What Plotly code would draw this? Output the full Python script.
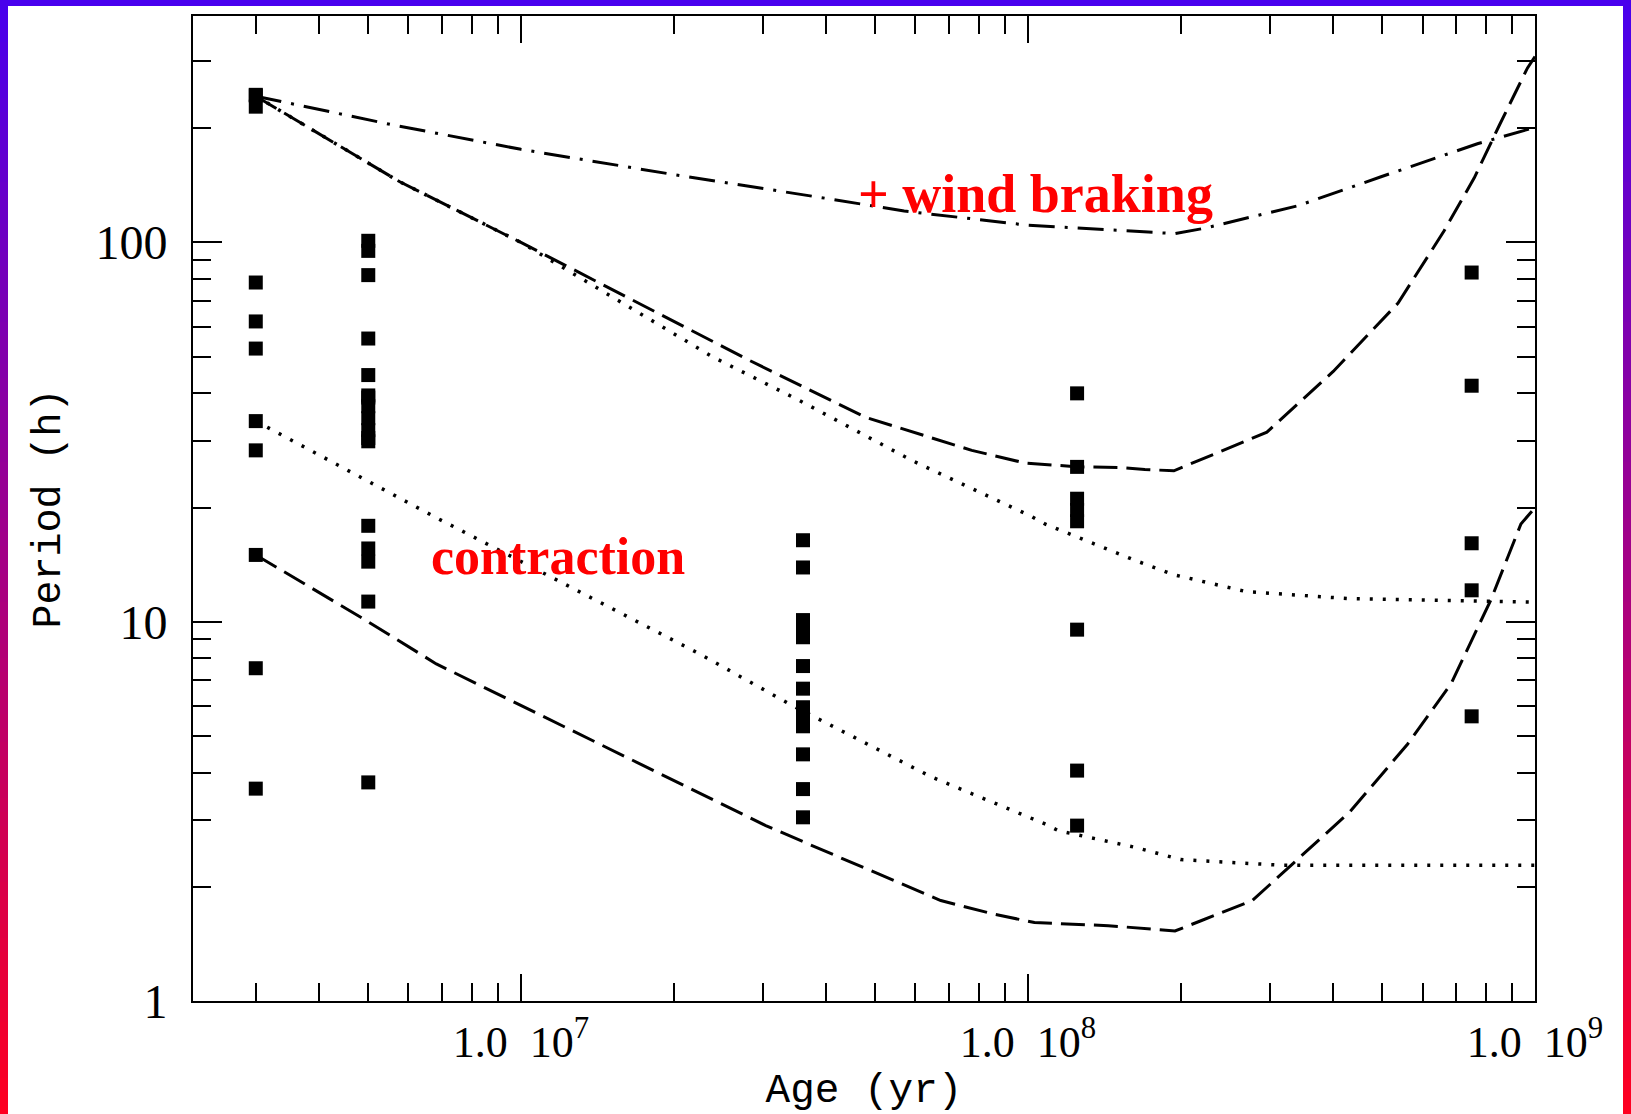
import plotly.graph_objects as go

# ---------------- data ----------------
# observed rotation periods (age in yr, period in h)
age_3myr = [3.0e6] * 11
per_3myr = [244, 228, 78.4, 61.9, 52.5, 33.8, 28.3, 15.0, 7.54, 3.63, 245]
age_5myr = [5.0e6] * 17
per_5myr = [101, 95, 82.0, 55.8, 44.7, 39.5, 37.0, 34.4, 32.0, 29.9,
            17.9, 15.6, 14.4, 11.3, 3.77, 39.0, 30.5]
age_36myr = [3.6e7] * 13
per_36myr = [16.4, 13.9, 10.1, 9.6, 9.1, 7.64, 6.66, 5.95, 5.6, 5.3, 4.47, 3.62, 3.05]
age_125myr = [1.25e8] * 8
per_125myr = [40.0, 25.6, 21.1, 19.7, 18.4, 9.53, 4.05, 2.90]
age_750myr = [7.5e8] * 5
per_750myr = [83.3, 41.9, 16.1, 12.1, 5.63]

# model tracks
windA_age = [3.0e6, 5.6e6, 1.0e7, 2.0e7, 4.1e7, 5.7e7, 1.0e8, 1.95e8, 2.23e8, 3.41e8, 4.97e8, 7.7e8, 1.0e9]
windA_per = [243, 204, 176, 151, 130, 121, 111, 105.5, 109, 125, 149, 182, 201]

dashU_age = [3.0e6, 5.77e6, 1.0e7, 2.82e7, 4.78e7, 7.75e7, 9.87e7, 1.26e8, 1.51e8, 1.70e8, 1.94e8,
             2.96e8, 4.0e8, 5.37e8, 6.61e8, 7.59e8, 8.51e8, 9.66e8, 1.0e9]
dashU_per = [243, 144.5, 100, 48.9, 34.6, 28.3, 26.2, 25.6, 25.5, 25.2, 25.0,
             31.6, 45.7, 69.2, 107, 148, 204, 288, 309]

dotU_age = [3.0e6, 5.77e6, 1.0e7, 2.39e7, 3.53e7, 5.91e7, 1.02e8, 1.08e8, 1.63e8, 1.94e8, 2.70e8, 4.32e8, 1.0e9]
dotU_per = [243, 144.5, 100, 49.9, 38.4, 26.6, 18.9, 18.1, 14.5, 13.3, 12.0, 11.5, 11.26]

dotL_age = [3.0e6, 6.76e6, 2.25e7, 3.43e7, 6.47e7, 1.08e8, 1.15e8, 1.63e8, 2.0e8, 3.16e8, 1.0e9]
dotL_per = [33.8, 18.9, 8.23, 6.01, 3.89, 2.93, 2.81, 2.54, 2.36, 2.28, 2.28]

dashL_age = [3.0e6, 4.89e6, 6.81e6, 3.04e7, 3.70e7, 6.73e7, 8.48e7, 1.03e8, 1.44e8, 1.95e8,
             2.20e8, 2.77e8, 4.32e8, 5.61e8, 6.83e8, 8.18e8, 9.38e8, 1.0e9]
dashL_per = [15.0, 10.18, 7.74, 2.90, 2.59, 1.84, 1.70, 1.61, 1.58, 1.53,
             1.63, 1.84, 3.16, 4.76, 6.86, 11.4, 18.1, 20.0]

x_major = [1e7, 1e8, 1e9]
x_major_text = ["1.0  10<sup>7</sup>", "1.0  10<sup>8</sup>", "1.0  10<sup>9</sup>"]
x_minor = [m * 10 ** e for e in (6, 7, 8) for m in range(2, 10)]
y_major = [1, 10, 100]
y_major_text = ["1", "10", "100"]
y_minor = [m * 10 ** e for e in (0, 1, 2) for m in range(2, 10)]

# ---------------- figure ----------------
W, H = 1631, 1114
ML, MR, MT, MB = 193, 96, 16, 113
PW, PH = W - ML - MR, H - MT - MB

fig = go.Figure()

line_style = dict(color="black", width=3)
dot_style = dict(color="black", width=3.5)
fig.add_trace(go.Scatter(x=windA_age, y=windA_per, mode="lines",
                         line=dict(**line_style, dash="26px,10px,3px,10px"), showlegend=False))
fig.add_trace(go.Scatter(x=dashU_age, y=dashU_per, mode="lines",
                         line=dict(**line_style, dash="24px,9px"), showlegend=False))
fig.add_trace(go.Scatter(x=dotU_age, y=dotU_per, mode="lines",
                         line=dict(**dot_style, dash="3px,10px"), showlegend=False))
fig.add_trace(go.Scatter(x=dotL_age, y=dotL_per, mode="lines",
                         line=dict(**dot_style, dash="3px,10px"), showlegend=False))
fig.add_trace(go.Scatter(x=dashL_age, y=dashL_per, mode="lines",
                         line=dict(**line_style, dash="24px,9px"), showlegend=False))

all_age = age_3myr + age_5myr + age_36myr + age_125myr + age_750myr
all_per = per_3myr + per_5myr + per_36myr + per_125myr + per_750myr
fig.add_trace(go.Scatter(x=all_age, y=all_per, mode="markers",
                         marker=dict(symbol="square", size=14, color="black", line=dict(width=0)),
                         showlegend=False))

fig.add_annotation(x=7.0738, y=1.172, xref="x", yref="y", text="<b>contraction</b>",
                   showarrow=False, font=dict(family="Liberation Serif", size=52, color="#ff0000"))
fig.add_annotation(x=8.014, y=2.128, xref="x", yref="y", text="<b>+ wind braking</b>",
                   showarrow=False, font=dict(family="Liberation Serif", size=54, color="#ff0000"))

# gradient frame around the picture
def grad(py):
    t = min(max(py / H, 0), 1)
    r = int(72 + (255 - 72) * t)
    b = int(238 - (238 - 32) * t)
    return f"rgb({r},0,{b})"

def px(xp):
    return (xp - ML) / PW

def py(yp):
    return (H - MB - yp) / PH

shapes = [dict(type="rect", xref="paper", yref="paper", x0=px(0), x1=px(W), y0=py(0), y1=py(6),
               fillcolor=grad(0), line=dict(width=0), layer="above")]
step = 14
for y0 in range(0, H, step):
    y1 = min(y0 + step + 1, H)
    c = grad(y0 + step / 2)
    for (a, b) in ((0, 8), (1623, W)):
        shapes.append(dict(type="rect", xref="paper", yref="paper", x0=px(a), x1=px(b),
                           y0=py(y1), y1=py(y0), fillcolor=c, line=dict(width=0), layer="above"))

xtickfont = dict(family="Liberation Serif", size=44, color="black")
ytickfont = dict(family="Liberation Serif", size=48, color="black")
fig.update_layout(
    width=W, height=H,
    margin=dict(l=ML, r=MR, t=MT, b=MB, autoexpand=False),
    paper_bgcolor="white", plot_bgcolor="white",
    shapes=shapes,
    xaxis=dict(type="log", range=[6.3533, 9.0], showgrid=False, zeroline=False,
               showline=True, linecolor="black", linewidth=2, mirror="ticks",
               ticks="inside", ticklen=27, tickwidth=2, tickcolor="black",
               tickmode="array", tickvals=x_major, ticktext=x_major_text,
               tickfont=xtickfont, ticklabelstandoff=1,
               minor=dict(ticks="inside", ticklen=18, tickwidth=2, tickcolor="black",
                          tickmode="array", tickvals=x_minor, showgrid=False),
               title=dict(text="Age (yr)", font=dict(family="Liberation Mono", size=41, color="black"),
                          standoff=13),
               automargin=False),
    yaxis=dict(type="log", range=[0, 2.597], showgrid=False, zeroline=False,
               showline=True, linecolor="black", linewidth=2, mirror="ticks",
               ticks="inside", ticklen=29, tickwidth=2, tickcolor="black",
               tickmode="array", tickvals=y_major, ticktext=y_major_text,
               tickfont=ytickfont, ticklabelstandoff=14,
               minor=dict(ticks="inside", ticklen=18, tickwidth=2, tickcolor="black",
                          tickmode="array", tickvals=y_minor, showgrid=False),
               title=dict(text="Period (h)", font=dict(family="Liberation Mono", size=40, color="black"),
                          standoff=22),
               automargin=False),
)

fig.write_html("out.html")
